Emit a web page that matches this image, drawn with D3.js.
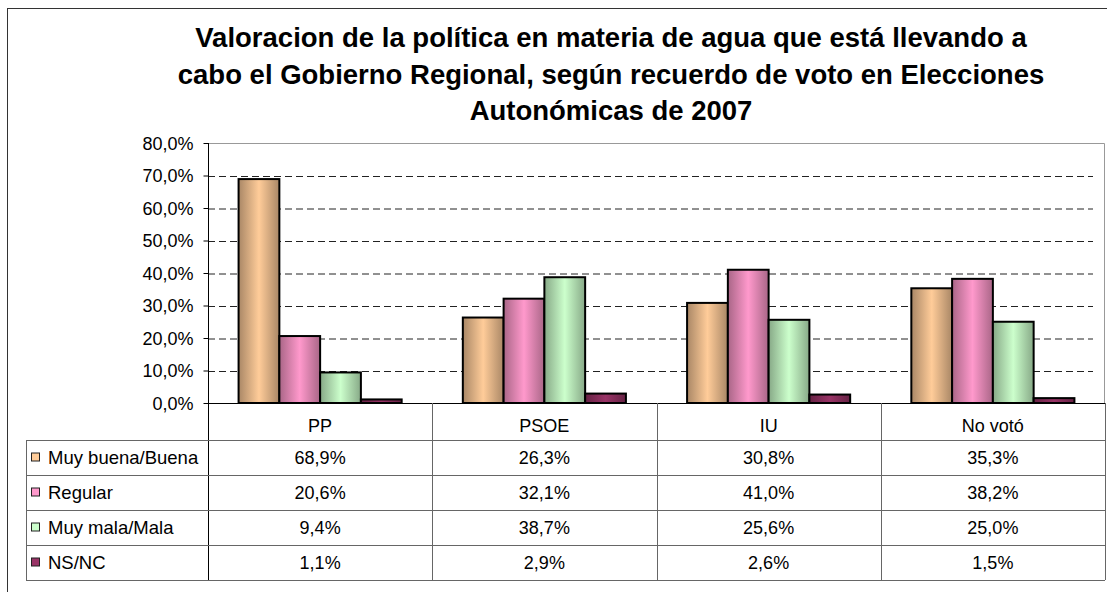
<!DOCTYPE html>
<html lang="es">
  <head>
    <meta charset="utf-8" />
    <title>Valoracion de la política en materia de agua</title>
    <script src="https://d3js.org/d3.v7.min.js"></script>
    <style>
      body {
        margin: 0;
        background: white;
      }
      text {
        font-family: "Liberation Sans", Arial, sans-serif;
        fill: black;
      }
      .title {
        font-size: 27.5px;
        font-weight: bold;
      }
      .label {
        font-size: 18px;
      }
      .grid line {
        stroke: #222;
        stroke-width: 1;
        stroke-dasharray: 7, 4;
      }
      .table-line {
        stroke: #666;
        stroke-width: 1;
      }
    </style>
  </head>
  <body>
    <svg width="1107" height="592"></svg>
    <script>
      // data
      const categories = ["PP", "PSOE", "IU", "No votó"];
      const series = ["Muy buena/Buena", "Regular", "Muy mala/Mala", "NS/NC"];
      const muyBuena = [68.9, 26.3, 30.8, 35.3];
      const regular = [20.6, 32.1, 41.0, 38.2];
      const muyMala = [9.4, 38.7, 25.6, 25.0];
      const nsnc = [1.1, 2.9, 2.6, 1.5];
      const seriesValues = [muyBuena, regular, muyMala, nsnc];
      const colours = ["#FFCC99", "#FF99CC", "#CCFFCC", "#993366"];
      const yTicks = [0, 10, 20, 30, 40, 50, 60, 70, 80];
      const titleLines = [
        "Valoracion de la política en materia de agua que está llevando a",
        "cabo el Gobierno Regional, según recuerdo de voto en Elecciones",
        "Autonómicas de 2007",
      ];

      const svg = d3.select("svg");
      const plot = { left: 208, right: 1105, top: 143, bottom: 403 };
      const legendLeft = 26;
      const headerH = 37,
        rowH = 35;

      const locale = d3.formatLocale({
        decimal: ",",
        thousands: ".",
        grouping: [3],
        currency: ["", "€"],
      });
      const fmt = (v) => locale.format(".1f")(v) + "%";

      const y = d3.scaleLinear().domain([0, 80]).range([plot.bottom, plot.top]);
      const x0 = d3
        .scaleBand()
        .domain(categories)
        .range([plot.left, plot.right])
        .padding(0);
      const x1 = d3
        .scaleBand()
        .domain(series)
        .range([0, x0.bandwidth()])
        .paddingInner(0)
        .paddingOuter(0.75);

      // outer chart border (right / bottom run off the picture)
      svg
        .append("rect")
        .attr("x", 7.5)
        .attr("y", 8.5)
        .attr("width", 1120)
        .attr("height", 600)
        .attr("fill", "none")
        .attr("stroke", "#333");

      // title
      svg
        .append("g")
        .selectAll("text")
        .data(titleLines)
        .join("text")
        .attr("class", "title")
        .attr("x", 611)
        .attr("y", (d, i) => 47 + i * 36.5)
        .attr("text-anchor", "middle")
        .text((d) => d);

      // gradients
      const defs = svg.append("defs");
      series.forEach((s, i) => {
        const c = d3.color(colours[i]);
        const grad = defs
          .append("linearGradient")
          .attr("id", "grad-" + i)
          .attr("x1", 0)
          .attr("x2", 1)
          .attr("y1", 0)
          .attr("y2", 0);
        grad.append("stop").attr("offset", "0%").attr("stop-color", c.darker(1.15));
        grad.append("stop").attr("offset", "50%").attr("stop-color", c);
        grad.append("stop").attr("offset", "100%").attr("stop-color", c.darker(1.15));
      });

      // plot area border (top & right)
      svg
        .append("path")
        .attr(
          "d",
          `M${plot.left},${plot.top + 0.5}H${plot.right - 0.5}V${plot.bottom}`
        )
        .attr("fill", "none")
        .attr("stroke", "#999");

      // gridlines
      svg
        .append("g")
        .attr("class", "grid")
        .attr("transform", `translate(${plot.left},0.5)`)
        .call(
          d3
            .axisLeft(y)
            .tickValues(yTicks.filter((t) => t > 0 && t < 80))
            .tickSize(-(plot.right - plot.left - 12))
            .tickFormat("")
        )
        .call((g) => g.select(".domain").remove());

      // bars
      series.forEach((s, i) => {
        svg
          .append("g")
          .selectAll("rect")
          .data(seriesValues[i])
          .join("rect")
          .attr("x", (d, j) => x0(categories[j]) + x1(s))
          .attr("y", (d) => y(d))
          .attr("width", x1.bandwidth())
          .attr("height", (d) => y(0) - y(d))
          .attr("fill", `url(#grad-${i})`)
          .attr("stroke", "black")
          .attr("stroke-width", 2);
      });

      // y axis
      const yAxis = svg
        .append("g")
        .attr("transform", `translate(${plot.left + 0.5},0)`)
        .call(
          d3
            .axisLeft(y)
            .tickValues(yTicks)
            .tickSize(5)
            .tickPadding(10)
            .tickFormat(fmt)
        );
      yAxis.select(".domain").attr("d", `M0,${plot.top}V${plot.bottom + headerH + 4 * rowH}`).attr("stroke", "#000");
      yAxis.selectAll(".tick line").attr("stroke", "#000");
      yAxis
        .selectAll(".tick text")
        .attr("class", "label")
        .attr("font-size", null)
        .attr("font-family", null)
        .attr("dy", "0.36em");
      yAxis.attr("font-size", null).attr("font-family", null);

      // data table
      const tableBottom = plot.bottom + headerH + series.length * rowH;
      const table = svg.append("g");
      // x axis line (table top)
      table
        .append("line")
        .attr("x1", plot.left)
        .attr("x2", plot.right)
        .attr("y1", plot.bottom + 0.5)
        .attr("y2", plot.bottom + 0.5)
        .attr("stroke", "#000");
      // horizontal row lines
      table
        .selectAll(".hline")
        .data(d3.range(series.length + 1))
        .join("line")
        .attr("class", "table-line")
        .attr("x1", legendLeft)
        .attr("x2", plot.right)
        .attr("y1", (d) => plot.bottom + headerH + d * rowH + 0.5)
        .attr("y2", (d) => plot.bottom + headerH + d * rowH + 0.5);
      // vertical lines
      table
        .selectAll(".vline")
        .data(categories.slice(1).map((c) => x0(c)).concat([plot.right - 0.5]))
        .join("line")
        .attr("class", "table-line")
        .attr("x1", (d) => Math.round(d) + 0.5)
        .attr("x2", (d) => Math.round(d) + 0.5)
        .attr("y1", plot.bottom)
        .attr("y2", tableBottom);
      table
        .append("line")
        .attr("class", "table-line")
        .attr("x1", legendLeft + 0.5)
        .attr("x2", legendLeft + 0.5)
        .attr("y1", plot.bottom + headerH)
        .attr("y2", tableBottom);

      // category headers
      table
        .selectAll(".cat")
        .data(categories)
        .join("text")
        .attr("class", "label")
        .attr("x", (d) => x0(d) + x0.bandwidth() / 2)
        .attr("y", plot.bottom + headerH / 2 + 4)
        .attr("text-anchor", "middle")
        .attr("dy", "0.36em")
        .text((d) => d);

      // legend keys and names
      series.forEach((s, i) => {
        const cy = plot.bottom + headerH + i * rowH + rowH / 2;
        table
          .append("rect")
          .attr("x", 31.5)
          .attr("y", cy - 4.5)
          .attr("width", 8)
          .attr("height", 8)
          .attr("fill", colours[i])
          .attr("stroke", "#222");
        table
          .append("text")
          .attr("class", "label")
          .attr("x", 48)
          .attr("y", cy)
          .attr("dy", "0.36em")
          .style("font-size", "18.5px")
          .text(s);
        table
          .selectAll(".val-" + i)
          .data(seriesValues[i])
          .join("text")
          .attr("class", "label")
          .attr("x", (d, j) => x0(categories[j]) + x0.bandwidth() / 2)
          .attr("y", cy)
          .attr("dy", "0.36em")
          .attr("text-anchor", "middle")
          .text((d) => fmt(d));
      });
    </script>
  </body>
</html>
